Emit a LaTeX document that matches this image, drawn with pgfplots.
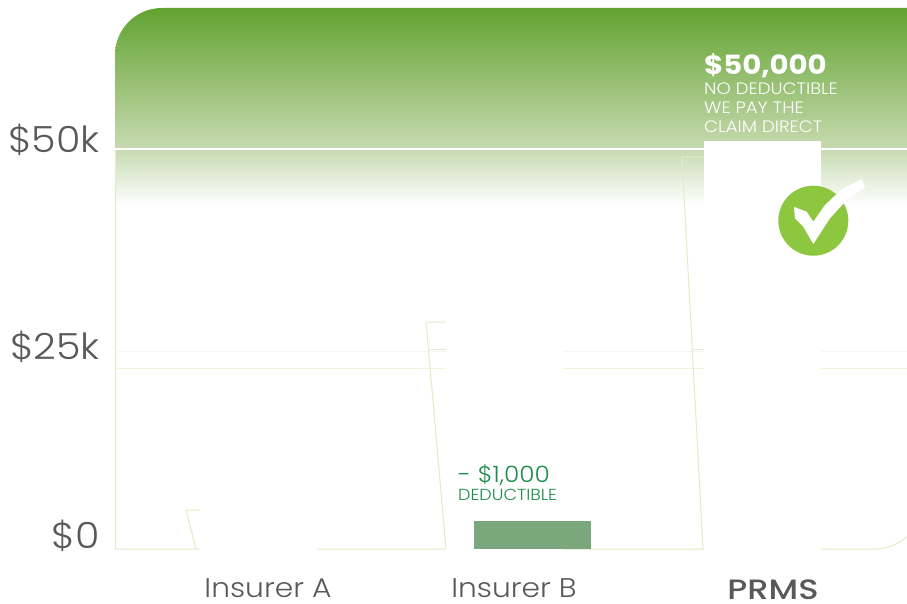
\documentclass[border=0pt]{standalone}
\usepackage{pgfplots}
\pgfplotsset{compat=1.18}
\usepackage{fontspec}
\setmainfont{Poppins}
\newfontfamily\lightf[FakeStretch=1.1]{Poppins Light}
\newfontfamily\medf[FakeStretch=1.2]{Poppins Medium}
\newfontfamily\boldf[FakeStretch=1.1]{Poppins Bold}
\definecolor{gtop}{HTML}{62A330}
\definecolor{gmid}{HTML}{C7DAB0}
\definecolor{gline}{HTML}{DFEDC8}
\definecolor{gridA}{HTML}{F4F7EF}
\definecolor{gridB}{HTML}{EDF5DF}
\definecolor{greybar}{HTML}{E6E8DE}
\definecolor{dedbar}{HTML}{7AA87C}
\definecolor{dedtxt}{HTML}{1E8C4A}
\definecolor{chk}{HTML}{8DC63F}
\definecolor{lab}{HTML}{58595B}
\pgfdeclareverticalshading{greenfade}{100bp}{
  color(0bp)=(white); color(25bp)=(white); color(56.8bp)=(white);
  color(61.97bp)=(gmid); color(75bp)=(gtop); color(100bp)=(gtop)}
\begin{document}
\begin{tikzpicture}
\useasboundingbox (0pt,0pt) rectangle (907pt,-604pt);
\begin{scope}[x=1pt,y=-1pt]
\clip (0,0) rectangle (907,604);
\path[shading=greenfade] (115,549) -- (115,55) .. controls (115,29) and (136,8) .. (162,8) -- (930,8) -- (930,549) -- cycle;
\fill[white] (875,549) .. controls (888,549) and (900,544) .. (915,530) -- (915,552) -- (875,552) -- cycle;
\draw[gline,line width=1pt] (115.5,150) -- (115.5,549) -- (875,549) .. controls (888,549) and (900,544) .. (915,530);
\end{scope}
\begin{axis}[
  at={(115pt,-549pt)}, anchor=south west,
  scale only axis, width=792pt, height=541pt,
  xmin=115, xmax=907, ymin=0, ymax=67625,
  clip=false,
  axis line style={draw=none},
  tick style={draw=none},
  xtick={268,514,773},
  xticklabels={\lightf Insurer A,\lightf Insurer B,\raisebox{-2pt}{\medf\fontsize{28}{28}\selectfont PRMS}},
  xticklabel style={anchor=base,yshift=-48pt,font=\fontsize{27}{27}\selectfont,text=lab,inner sep=0pt},
  ytick={0,25000,50000},
  yticklabels={\raisebox{1pt}{\$0},\raisebox{-10pt}{\$25k},\raisebox{-4pt}{\$50k}},
  yticklabel style={anchor=base east,xshift=-15pt,font=\lightf\fontsize{36}{36}\selectfont,text=lab,inner sep=0pt},
  scaled y ticks=false,
]
% grid and shadow lines
\addplot[gridA,line width=1pt] coordinates {(115,24687) (907,24687)};
\addplot[gridB,line width=1pt] coordinates {(115,22625) (907,22625)};
\addplot[white,line width=1.5pt] coordinates {(115,50000) (907,50000)};
\addplot[gline,line width=1pt] coordinates {(200,4875) (186,4875) (196,0)};
\addplot[gline,line width=1pt] coordinates {(446,28375) (426,28375) (446,0)};
\addplot[greybar,line width=1pt] coordinates {(428,24937) (446,24937)};
\addplot[gline,line width=1pt] coordinates {(704,49000) (682,49000) (703,0)};
\addplot[greybar,line width=1pt] coordinates {(692,24937) (704,24937)};
% bars
\addplot[ybar,bar width=116pt,bar shift=0pt,fill=white,draw=white,line width=1pt] coordinates {(258.5,4875)};
\addplot[ybar,bar width=116pt,bar shift=0pt,fill=white,draw=white,line width=1pt] coordinates {(504.5,28375)};
\addplot[ybar,bar width=116pt,bar shift=0pt,fill=white,draw=white,line width=1pt] coordinates {(762.5,50940)};
\addplot[ybar,bar width=117pt,bar shift=0pt,fill=dedbar,draw=none] coordinates {(532.5,3500)};
\end{axis}
\begin{scope}[x=1pt,y=-1pt]
\fill[chk] (813.3,220.7) circle[radius=35];
\fill[white] (794,207) -- (806.7,211.7) -- (813.3,221.7) -- (825,205) -- (841.7,189.3) -- (861.7,179) -- (865,187.3) -- (846.7,200) -- (830,218.3) -- (813.3,244) -- (803.3,226.7) -- (795,218.3) -- cycle;
\node[anchor=base west,inner sep=0pt,white,font=\boldf\fontsize{26.5}{26.5}\selectfont] at (704,74.5) {\$50,000};
\node[anchor=base west,inner sep=0pt,white,font=\lightf\fontsize{16.5}{16.5}\selectfont] at (704,95) {NO DEDUCTIBLE};
\node[anchor=base west,inner sep=0pt,white,font=\lightf\fontsize{16.5}{16.5}\selectfont] at (704,114) {WE PAY THE};
\node[anchor=base west,inner sep=0pt,white,font=\lightf\fontsize{16.5}{16.5}\selectfont] at (704,133) {CLAIM DIRECT};
\node[anchor=base west,inner sep=0pt,dedtxt,font=\lightf\fontsize{22.5}{22.5}\selectfont] at (458,482) {- \$1,000};
\node[anchor=base west,inner sep=0pt,dedtxt,font=\lightf\fontsize{16}{16}\selectfont] at (458,500) {DEDUCTIBLE};
\end{scope}
\end{tikzpicture}
\end{document}
